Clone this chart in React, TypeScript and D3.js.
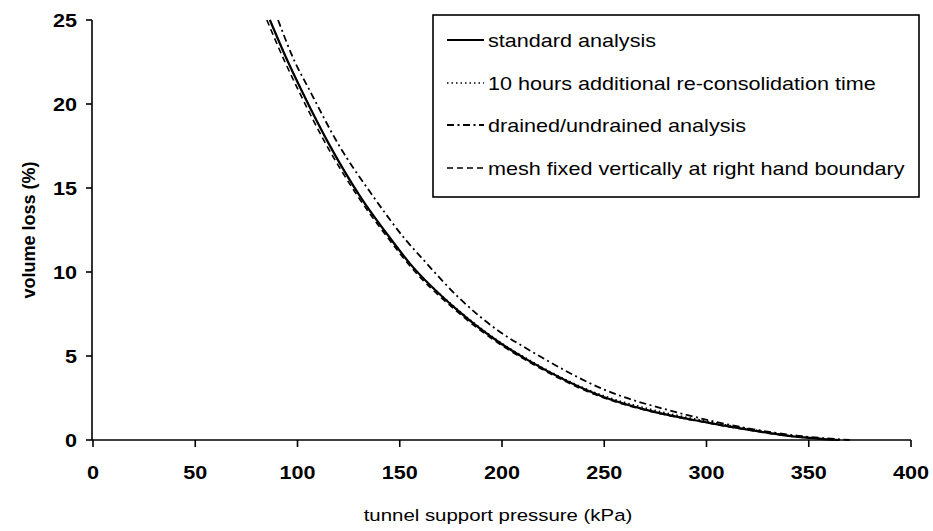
import React from "react";
import * as d3 from "d3";

// ---- data ----
const standardX = [86.5, 95, 102, 115, 130.6, 146, 155, 178.5, 200, 212, 250, 272, 300, 321, 340, 365];
const standardY = [25, 22.6, 20.8, 17.7, 14.5, 11.9, 10.5, 7.7, 5.7, 4.8, 2.55, 1.75, 1.05, 0.6, 0.25, 0];

const reconsolX = [86.5, 95, 102, 115, 130.6, 146, 155, 178.5, 200, 212, 250, 272, 300, 321, 340, 365];
const reconsolY = [25, 22.6, 20.8, 17.7, 14.5, 11.9, 10.5, 7.75, 5.75, 4.85, 2.62, 1.85, 1.12, 0.65, 0.27, 0];

const drainedX = [90.5, 98, 106, 120, 137, 153, 161, 179.5, 200, 212, 250, 287, 320, 345, 370];
const drainedY = [25, 22.7, 20.8, 17.6, 14.5, 11.9, 10.8, 8.4, 6.35, 5.45, 3.0, 1.6, 0.7, 0.25, 0];

const meshX = [85, 93.5, 100.5, 113.5, 129.5, 145, 154, 177.5, 199, 211, 250, 272, 300, 321, 340, 365];
const meshY = [25, 22.6, 20.8, 17.7, 14.5, 11.9, 10.5, 7.7, 5.7, 4.8, 2.5, 1.72, 1.03, 0.58, 0.24, 0];

const seriesNames = [
  "standard analysis",
  "10 hours additional re-consolidation time",
  "drained/undrained analysis",
  "mesh fixed vertically at right hand boundary",
];

const xTicks = [0, 50, 100, 150, 200, 250, 300, 350, 400];
const yTicks = [0, 5, 10, 15, 20, 25];

const xTitle = "tunnel support pressure (kPa)";
const yTitle = "volume loss (%)";

// ---- layout ----
const W = 933;
const H = 531;
const FONT = "'Liberation Sans', Arial, Helvetica, sans-serif";
const HS = 1.2; // horizontal stretch of the scanned text

const x = d3.scaleLinear().domain([0, 400]).range([93, 911]);
const y = d3.scaleLinear().domain([0, 25]).range([440, 20]);

const line = d3
  .line<[number, number]>()
  .x((d) => x(d[0]))
  .y((d) => y(d[1]))
  .curve(d3.curveMonotoneX);

const zip = (a: number[], b: number[]) => a.map((v, i) => [v, b[i]] as [number, number]);

const styles = [
  { dash: "none", width: 2.2 },
  { dash: "1.5,3", width: 1.6 },
  { dash: "7,3.5,2,3.5", width: 1.8 },
  { dash: "6,4", width: 1.6 },
];

const seriesData = [
  zip(standardX, standardY),
  zip(reconsolX, reconsolY),
  zip(drainedX, drainedY),
  zip(meshX, meshY),
];

function SText(props: { x: number; y: number; anchor?: string; size: number; weight?: string; children: React.ReactNode }) {
  const { x: tx, y: ty, anchor = "start", size, weight = "normal", children } = props;
  return (
    <text
      transform={`translate(${tx},${ty}) scale(${HS},1)`}
      textAnchor={anchor}
      fontSize={size}
      fontWeight={weight}
      fontFamily={FONT}
      fill="#000"
    >
      {children}
    </text>
  );
}

export default function App() {
  const x0 = x(0) - 1;
  const legendX = 433;
  const legendY = 15;
  const legendW = 486;
  const legendH = 182;
  const rowY = [40, 83, 125, 168];
  return (
    <svg width={W} height={H} style={{ position: "absolute", left: 0, top: 0, background: "#fff" }}>
      <rect x={0} y={0} width={W} height={H} fill="#fff" />
      {/* curves */}
      <g fill="none" stroke="#000">
        {seriesData.map((d, i) => (
          <path
            key={i}
            d={line(d) || ""}
            strokeWidth={styles[i].width}
            strokeDasharray={styles[i].dash}
          />
        ))}
      </g>
      {/* axes */}
      <g stroke="#000" strokeWidth={1.6}>
        <line x1={x0} x2={x0} y1={y(25)} y2={y(0)} />
        <line x1={x0} x2={x(400)} y1={y(0)} y2={y(0)} />
        {yTicks.map((t) => (
          <line key={t} x1={x0 - 6} x2={x0} y1={y(t)} y2={y(t)} />
        ))}
        {xTicks.map((t) => (
          <line key={t} x1={x(t)} x2={x(t)} y1={y(0)} y2={y(0) + 7} />
        ))}
      </g>
      {yTicks.map((t) => (
        <SText key={t} x={77} y={y(t) + 6.5} anchor="end" size={18} weight="bold">
          {t}
        </SText>
      ))}
      {xTicks.map((t) => (
        <SText key={t} x={x(t)} y={479} anchor="middle" size={18} weight="bold">
          {t}
        </SText>
      ))}
      <text
        transform={`translate(35,230) rotate(-90)`}
        textAnchor="middle"
        fontSize={18}
        fontWeight="bold"
        fontFamily={FONT}
      >
        {yTitle}
      </text>
      <SText x={498} y={521} anchor="middle" size={17}>
        {xTitle}
      </SText>
      {/* legend */}
      <rect x={legendX} y={legendY} width={legendW} height={legendH} fill="#fff" stroke="#000" strokeWidth={1.6} />
      {seriesNames.map((name, i) => (
        <g key={name}>
          <line
            x1={447}
            x2={484}
            y1={rowY[i]}
            y2={rowY[i]}
            stroke="#000"
            strokeWidth={styles[i].width}
            strokeDasharray={styles[i].dash}
          />
          <SText x={488} y={rowY[i] + 6.5} size={18}>
            {name}
          </SText>
        </g>
      ))}
    </svg>
  );
}
